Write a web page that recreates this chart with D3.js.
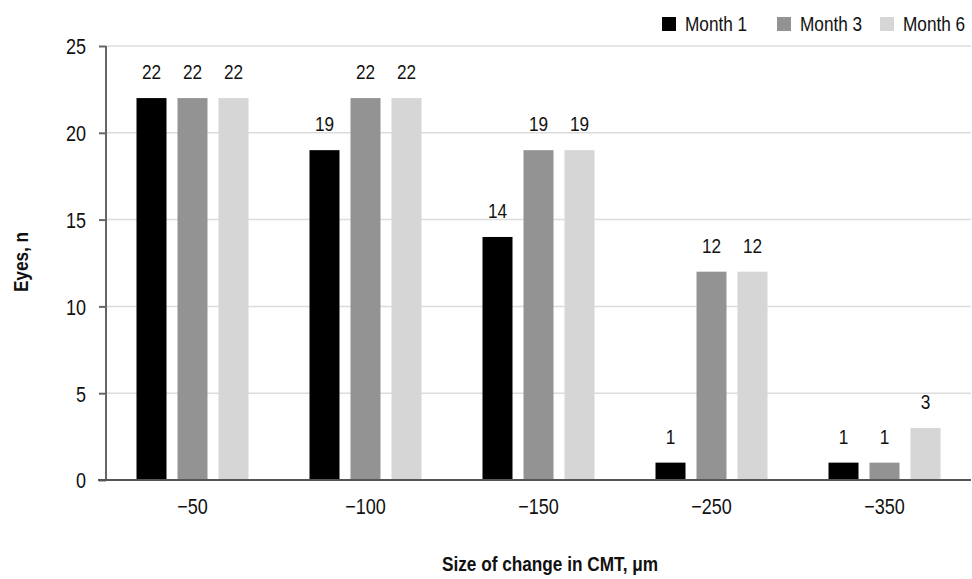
<!DOCTYPE html>
<html>
<head>
<meta charset="utf-8">
<script src="https://cdn.jsdelivr.net/npm/d3@7"></script>
<style>
  body { margin: 0; background: #fff; }
  svg text { font-family: "Liberation Sans", Arial, sans-serif; fill: #111; }
</style>
</head>
<body>
<div id="screen"></div>
<script>
var width = 972;
var height = 579;

// data
var categories = ["\u221250", "\u2212100", "\u2212150", "\u2212250", "\u2212350"];
var seriesNames = ["Month 1", "Month 3", "Month 6"];
var month1 = [22, 19, 14, 1, 1];
var month3 = [22, 22, 19, 12, 1];
var month6 = [22, 22, 19, 12, 3];
var yTicks = [0, 5, 10, 15, 20, 25];
var colors = ["#000000", "#939393", "#d6d6d6"];

var seriesValues = [month1, month3, month6];
var rows = categories.map(function(c, i){
  return { cat: c, values: seriesNames.map(function(s, j){ return { name: s, value: seriesValues[j][i] }; }) };
});

var plotLeft = 106, plotRight = 971, plotTop = 46, plotBottom = 480;
var narrow = 0.82; // squeeze the sans to look like a narrow face

var svg = d3.select("#screen").append("svg")
  .attr("width", width).attr("height", height);

var x = d3.scaleBand().domain(categories).range([plotLeft, plotRight]).padding(0);
var groupW = 112;
var x1 = d3.scaleBand().domain(seriesNames).range([0, groupW]).paddingInner(11 / 41).paddingOuter(0);
var y = d3.scaleLinear().domain([0, 25]).range([plotBottom, plotTop]);

// gridlines
svg.append("g").selectAll("line").data(yTicks.filter(function(d){ return d > 0; })).enter().append("line")
  .attr("x1", plotLeft).attr("x2", plotRight)
  .attr("y1", function(d){ return y(d); }).attr("y2", function(d){ return y(d); })
  .attr("stroke", "#dcdcdc").attr("stroke-width", 1.5);

// bars
var groups = svg.append("g").selectAll("g").data(rows).enter().append("g")
  .attr("transform", function(d){ return "translate(" + (x(d.cat) + (x.bandwidth() - groupW) / 2) + ",0)"; });

groups.selectAll("rect").data(function(d){ return d.values; }).enter().append("rect")
  .attr("x", function(d){ return x1(d.name); })
  .attr("width", x1.bandwidth())
  .attr("y", function(d){ return y(d.value); })
  .attr("height", function(d){ return plotBottom - y(d.value); })
  .attr("fill", function(d, i){ return colors[i]; });

groups.selectAll("text").data(function(d){ return d.values; }).enter().append("text")
  .attr("transform", function(d){
    return "translate(" + (x1(d.name) + x1.bandwidth() / 2) + "," + (y(d.value) - 19) + ") scale(" + narrow + ",1)";
  })
  .attr("text-anchor", "middle")
  .style("font-size", "21px")
  .text(function(d){ return d.value; });

// y axis
var yAxis = d3.axisLeft(y).tickValues(yTicks).tickSize(7).tickPadding(11);
var gy = svg.append("g").attr("transform", "translate(" + plotLeft + ",0)").call(yAxis);
gy.select(".domain").attr("stroke", "#666").attr("stroke-width", 2).attr("d", "M0," + plotTop + "V" + plotBottom);
gy.selectAll(".tick line").attr("stroke", "#666").attr("stroke-width", 2);
gy.selectAll(".tick text").style("font-size", "22px").attr("fill", "#111")
  .attr("x", null).attr("dy", "0.36em")
  .attr("transform", "translate(-20,0) scale(" + narrow + ",1)");

// x axis
var xAxis = d3.axisBottom(x).tickSize(0).tickPadding(18);
var gx = svg.append("g").attr("transform", "translate(0," + plotBottom + ")").call(xAxis);
gx.select(".domain").attr("stroke", "#555").attr("stroke-width", 2).attr("d", "M" + (plotLeft - 8) + ",0H" + plotRight);
gx.selectAll(".tick text").style("font-size", "22px").attr("fill", "#111")
  .attr("transform", "scale(" + narrow + ",1)");

// axis titles
svg.append("text")
  .attr("transform", "translate(28,262) rotate(-90) scale(" + narrow + ",1)")
  .attr("text-anchor", "middle")
  .style("font-size", "21px").style("font-weight", "bold")
  .text("Eyes, n");

svg.append("text")
  .attr("transform", "translate(550,571) scale(" + narrow + ",1)")
  .attr("text-anchor", "middle")
  .style("font-size", "21px").style("font-weight", "bold")
  .text("Size of change in CMT, \u03bcm");

// legend
var legendX = [662, 777, 880];
var legend = svg.append("g").selectAll("g").data(seriesNames).enter().append("g")
  .attr("transform", function(d, i){ return "translate(" + legendX[i] + ",17)"; });
legend.append("rect").attr("width", 14).attr("height", 14)
  .attr("fill", function(d, i){ return colors[i]; });
legend.append("text")
  .attr("transform", "translate(23,14) scale(" + narrow + ",1)")
  .style("font-size", "21px")
  .text(function(d){ return d; });
</script>
</body>
</html>
